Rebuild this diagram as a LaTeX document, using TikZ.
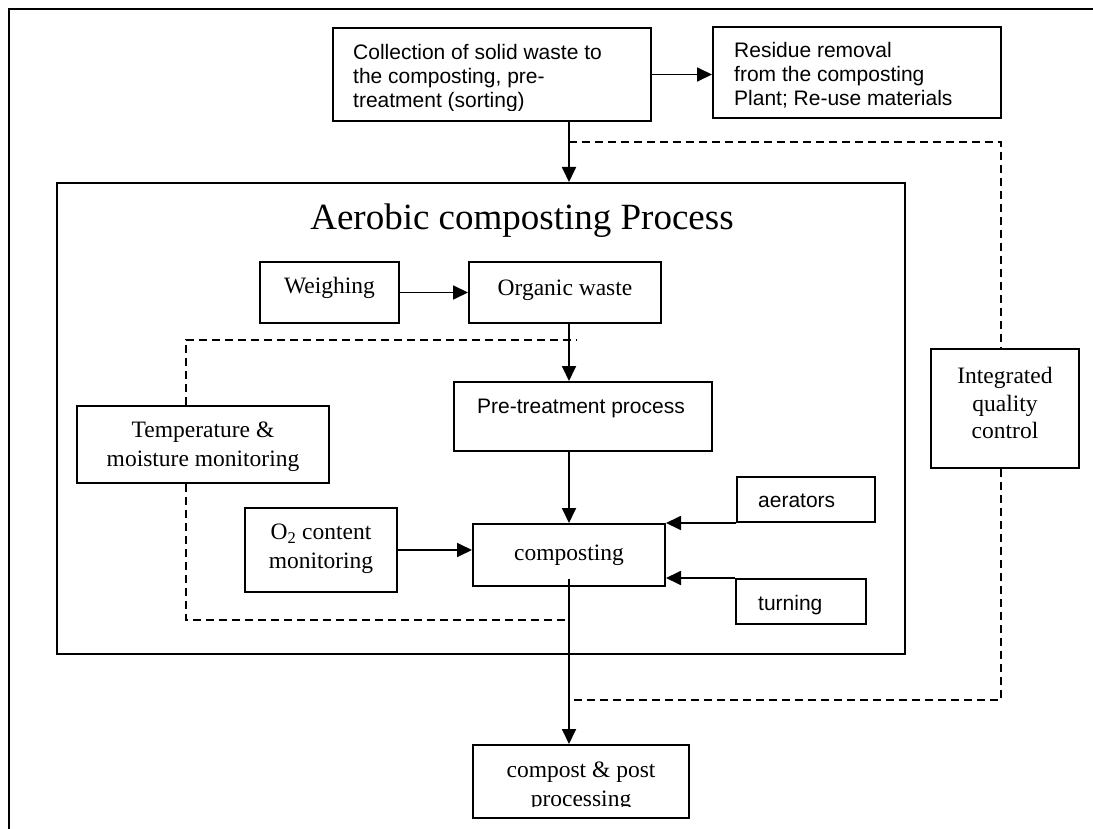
\documentclass[tikz,border=0pt]{standalone}
\usepackage{fontspec}
\setmainfont{Liberation Serif}
\newfontfamily\arialfam{Liberation Sans}
\usetikzlibrary{arrows.meta,fit,calc}
\tikzset{
  box/.style={draw,line width=2pt,inner sep=0pt,rectangle},
  sanstxt/.style={font=\arialfam\fontsize{21}{24}\selectfont,inner sep=0pt},
  sertxt/.style={font=\fontsize{23.5}{29}\selectfont,inner sep=0pt},
  arr/.style={line width=1.8pt,-{Triangle[length=15pt,width=14pt]}},
  dsh/.style={line width=1.8pt,dash pattern=on 8pt off 5pt},
  frame/.style={line width=2pt}
}
\begin{document}
\begin{tikzpicture}[x=1pt,y=-1pt]
\useasboundingbox (0,0) rectangle (1093,829);
% outer frame (top and left only)
\draw[frame] (9,829) -- (9,9) -- (1093,9);

% helper coordinates
\coordinate (spine) at (569,0);
\coordinate (qx) at (1001,0);
\coordinate (tx) at (186,0);

% boxes
\node[box,fit={(333,28) (651,121)}] (coll) {};
\node[box,fit={(713,27) (1001,118)}] (resid) {};
\node[box,fit={(57,183) (905,654)}] (aer) {};
\node[box,fit={(260,262) (399,323)}] (weigh) {};
\node[box,fit={(469,262) (661,323)}] (org) {};
\node[box,fit={(454,382) (712,451)}] (pre) {};
\node[box,fit={(77,406) (329,483)}] (temp) {};
\node[box,fit={(245,508) (397,592)}] (otwo) {};
\node[box,fit={(473,524) (665,586)}] (comp) {};
\node[box,fit={(737,477) (875,522)}] (aerat) {};
\node[box,fit={(736,579) (866,624)}] (turn) {};
\node[box,fit={(931,349) (1079,468)}] (iqc) {};
\node[box,fit={(473,745) (689,818)}] (post) {};

% texts
\begin{scope}
\clip (333,28) rectangle (651,111);
\node[sanstxt,anchor=north west,align=left] (tcoll) at (353,44)
  {Collection of solid waste to\\the composting, pre-\\treatment (sorting)};
\end{scope}
\node[sanstxt,anchor=north west,align=left] (tresid) at (734,42)
  {Residue removal\\from the composting\\Plant; Re-use materials};
\node[font=\fontsize{37}{44}\selectfont,inner sep=0pt,anchor=base] (title) at (522,230)
  {Aerobic composting Process};
\node[sertxt,anchor=base] (tweigh) at (329.5,294) {Weighing};
\node[sertxt,anchor=base] (torg) at (565,295) {Organic waste};
\node[sanstxt,anchor=base] (tpre) at (581,413) {Pre-treatment process};
\node[sertxt,anchor=north,align=center] (ttemp) at (203,422)
  {Temperature \&\\moisture monitoring};
\node[sertxt,anchor=north,align=center] (totwo) at (321,524)
  {O\textsubscript{2} content\\monitoring};
\node[sertxt] (tcomp) at (comp.center) {composting};
\node[sanstxt,anchor=base west] (taerat) at (758,507) {aerators};
\node[sanstxt,anchor=base west] (tturn) at (758,610) {turning};
\node[sertxt,anchor=north,align=center,font=\fontsize{23.5}{27.5}\selectfont] (tiqc) at (1005,367)
  {Integrated\\quality\\control};
\begin{scope}
\clip (473,745) rectangle (689,806);
\node[sertxt,anchor=north,align=center] (tpost) at (581,762)
  {compost \& post\\processing};
\end{scope}

% solid connectors
\draw[arr] (coll.east) -- (coll.east -| resid.west);
\draw[arr] (coll.south -| spine) -- (aer.north -| spine);
\draw[arr] (weigh.east) -- (weigh.east -| org.west);
\draw[arr] (org.south -| spine) -- (pre.north -| spine);
\draw[arr] (pre.south -| spine) -- (comp.north -| spine);
\draw[arr] (otwo.east) -- (otwo.east -| comp.west);
\draw[arr] (aerat.south west) -- (aerat.south west -| comp.east);
\draw[arr] (turn.north west) -- (turn.north west -| comp.east);
\draw[arr] ($(comp.south -| spine)+(0,-8)$) -- (post.north -| spine);

% dashed connectors
\coordinate (dqa) at (569,142);
\coordinate (dqb) at (569,700);
\coordinate (dta) at (577,340);
\coordinate (dtb) at (569,620);
\draw[dsh] (dqa) -| (iqc.north -| qx);
\draw[dsh] (iqc.south -| qx) |- (dqb);
\draw[dsh] (temp.north -| tx) |- (dta);
\draw[dsh] (temp.south -| tx) |- (dtb);
\end{tikzpicture}
\end{document}
